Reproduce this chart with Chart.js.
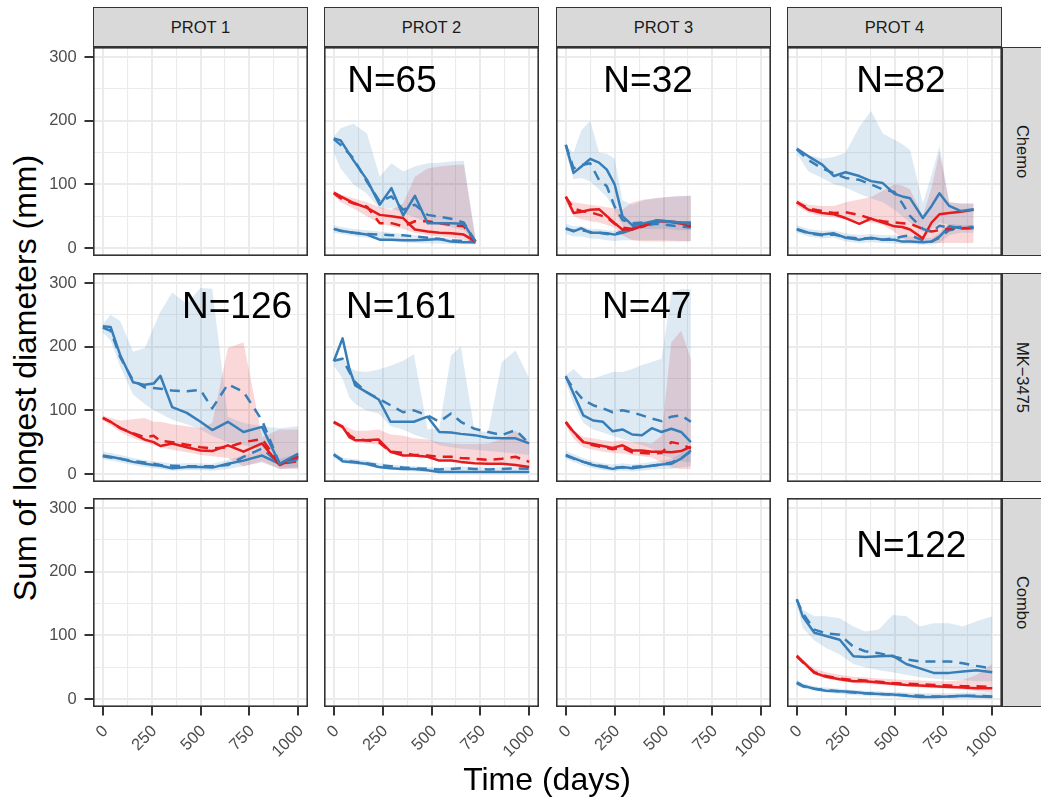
<!DOCTYPE html>
<html>
<head>
<meta charset="utf-8">
<script src="https://cdn.jsdelivr.net/npm/chart.js@4.4.1/dist/chart.umd.min.js"></script>
<style>
  html, body { margin: 0; padding: 0; background: #fff; }
  #figure { position: relative; width: 1041px; height: 798px; overflow: hidden;
            font-family: "Liberation Sans", Arial, sans-serif; }
  #figure canvas { position: absolute; }
  .strip { position: absolute; box-sizing: border-box; background: #d9d9d9;
           border: 1.4px solid #333; color: #1a1a1a; font-size: 16.5px;
           display: flex; align-items: center; justify-content: center; }
  .strip.side { border-right: none; }
  .strip.side span { transform: rotate(90deg); white-space: nowrap; }
  .axis-title { position: absolute; font-size: 32px; line-height: 32px; color: #000; white-space: nowrap; }
</style>
</head>
<body>
<div id="figure"></div>
<script>
// facet labels and axis ticks
const colLabels = ['PROT 1', 'PROT 2', 'PROT 3', 'PROT 4'];
const rowLabels = ['Chemo', 'MK\u22123475', 'Combo'];
const xTicks = [0, 125, 250, 375, 500, 625, 750, 875, 1000];
const yTicks = [0, 50, 100, 150, 200, 250, 300];

// Chemo / PROT 2
const chemo2Time = [0, 35, 100, 170, 235, 295, 355, 415, 480, 540, 600, 665, 725];
const chemo2ObsHi = [172, 169, 138, 107, 68, 94, 51, 82, 39, 39, 39, 38, 10];
const chemo2PredHi = [171, 162, 141, 104, 73, 81, 60, 68, 52, 49, 46, 40, 10];
const chemo2ObsMed = [87, 81, 71, 63, 52, 50, 47, 29, 26, 24, 23, 21, 10];
const chemo2PredMed = [86, 78, 70, 65, 39, 39, 34, 42, 42, 39, 36, 34, 10];
const chemo2ObsLo = [30, 27, 24, 21, 13, 13, 12, 12, 13, 14, 10, 9, 9];
const chemo2PredLo = [30, 27, 24, 22, 21, 20, 20, 18, 16, 14, 12, 11, 9];
const chemo2CiHiLow = [150, 125, 100, 85, 62, 62, 55, 48, 40, 36, 32, 28, 8];
const chemo2CiHiHigh = [175, 188, 195, 180, 112, 133, 120, 128, 133, 134, 136, 137, 15];
const chemo2CiMedLow = [82, 72, 62, 50, 38, 34, 30, 24, 20, 18, 16, 14, 8];
const chemo2CiMedHigh = [90, 84, 78, 72, 64, 60, 70, 112, 125, 128, 130, 131, 14];
const chemo2CiLoLow = [24, 22, 19, 16, 12, 10, 9, 8, 7, 7, 6, 6, 6];
const chemo2CiLoHigh = [36, 33, 30, 28, 26, 24, 22, 20, 18, 17, 15, 14, 11];

// Chemo / PROT 3
const chemo3Time = [0, 40, 80, 125, 170, 210, 250, 290, 340, 400, 460, 520, 580, 640];
const chemo3ObsHi = [162, 118, 128, 140, 134, 123, 100, 50, 36, 39, 43, 42, 40, 40];
const chemo3PredHi = [162, 125, 130, 133, 107, 97, 65, 44, 39, 40, 41, 41, 40, 38];
const chemo3ObsMed = [81, 55, 57, 60, 61, 50, 39, 29, 29, 36, 43, 42, 39, 34];
const chemo3PredMed = [80, 62, 58, 56, 52, 48, 38, 32, 30, 34, 42, 42, 40, 38];
const chemo3ObsLo = [31, 26, 31, 24, 24, 23, 21, 24, 29, 36, 42, 42, 39, 39];
const chemo3PredLo = [30, 27, 28, 25, 24, 22, 22, 26, 32, 35, 38, 36, 34, 32];
const chemo3CiHiLow = [150, 108, 110, 105, 92, 80, 60, 35, 28, 30, 30, 30, 28, 28];
const chemo3CiHiHigh = [160, 150, 185, 200, 150, 148, 140, 75, 68, 75, 78, 80, 82, 82];
const chemo3CiMedLow = [72, 50, 45, 42, 40, 36, 32, 20, 12, 10, 10, 10, 10, 10];
const chemo3CiMedHigh = [78, 72, 70, 68, 66, 64, 62, 60, 72, 76, 78, 80, 81, 82];
const chemo3CiLoLow = [22, 18, 18, 15, 14, 12, 11, 12, 12, 12, 12, 12, 11, 11];
const chemo3CiLoHigh = [38, 34, 34, 30, 30, 28, 27, 30, 34, 40, 44, 44, 42, 42];

// Chemo / PROT 4
const chemo4Time = [0, 60, 130, 190, 250, 320, 380, 440, 500, 540, 580, 645, 690, 730, 780, 840, 905];
const chemo4ObsHi = [156, 144, 131, 113, 119, 113, 105, 102, 85, 81, 78, 47, 66, 86, 66, 58, 61];
const chemo4PredHi = [155, 138, 125, 117, 110, 107, 100, 92, 88, 70, 50, 30, 25, 35, 32, 33, 33];
const chemo4ObsMed = [72, 60, 55, 53, 47, 38, 46, 40, 34, 33, 29, 15, 40, 53, 55, 57, 60];
const chemo4PredMed = [72, 62, 58, 55, 56, 52, 46, 42, 40, 39, 38, 30, 26, 28, 30, 31, 32];
const chemo4ObsLo = [30, 24, 21, 23, 16, 13, 16, 13, 13, 10, 10, 9, 10, 18, 34, 31, 31];
const chemo4PredLo = [29, 23, 20, 21, 17, 15, 15, 13, 15, 18, 20, 12, 10, 16, 28, 31, 31];
const chemo4CiHiLow = [148, 120, 110, 100, 95, 85, 78, 72, 60, 50, 40, 25, 30, 40, 36, 33, 33];
const chemo4CiHiHigh = [154, 146, 140, 143, 150, 190, 215, 180, 170, 163, 154, 70, 115, 160, 72, 70, 70];
const chemo4CiMedLow = [66, 55, 50, 48, 45, 42, 40, 36, 25, 15, 10, 8, 8, 8, 8, 8, 8];
const chemo4CiMedHigh = [76, 68, 66, 66, 72, 76, 80, 90, 100, 98, 92, 50, 95, 150, 72, 70, 70];
const chemo4CiLoLow = [24, 18, 15, 16, 10, 8, 9, 8, 7, 6, 6, 5, 5, 8, 20, 24, 24];
const chemo4CiLoHigh = [36, 30, 27, 28, 23, 20, 22, 20, 20, 18, 18, 16, 16, 24, 38, 36, 36];

// MK-3475 / PROT 1
const mk1Time = [0, 40, 90, 155, 215, 260, 295, 355, 430, 500, 560, 640, 720, 815, 905, 1000];
const mk1ObsHi = [232, 231, 186, 144, 140, 142, 154, 105, 96, 82, 69, 82, 66, 74, 16, 32];
const mk1PredHi = [230, 225, 183, 147, 136, 135, 134, 131, 130, 132, 103, 141, 129, 84, 16, 22];
const mk1ObsMed = [88, 82, 72, 63, 54, 50, 44, 48, 42, 37, 36, 45, 35, 48, 14, 27];
const mk1PredMed = [88, 82, 72, 64, 58, 60, 52, 50, 46, 42, 40, 42, 50, 55, 16, 20];
const mk1ObsLo = [29, 27, 24, 19, 16, 14, 13, 9, 11, 11, 10, 16, 21, 29, 16, 29];
const mk1PredLo = [28, 26, 24, 20, 18, 16, 14, 13, 12, 12, 12, 14, 27, 40, 16, 24];
const mk1CiHiLow = [222, 210, 168, 125, 110, 100, 95, 85, 78, 70, 60, 50, 45, 40, 10, 10];
const mk1CiHiHigh = [235, 250, 240, 192, 198, 230, 255, 285, 267, 292, 291, 90, 80, 75, 72, 75];
const mk1CiMedLow = [84, 76, 66, 56, 50, 45, 42, 38, 34, 30, 28, 25, 12, 20, 8, 8];
const mk1CiMedHigh = [92, 88, 84, 86, 88, 82, 82, 78, 75, 72, 80, 198, 207, 58, 70, 70];
const mk1CiLoLow = [23, 21, 18, 14, 11, 9, 8, 5, 6, 6, 5, 8, 12, 18, 8, 10];
const mk1CiLoHigh = [35, 33, 30, 25, 22, 20, 19, 16, 17, 17, 16, 22, 30, 38, 24, 32];

// MK-3475 / PROT 2
const mk2Time = [0, 45, 80, 110, 165, 230, 290, 355, 410, 480, 540, 600, 650, 720, 790, 860, 930, 1000];
const mk2ObsHi = [177, 213, 165, 139, 129, 117, 82, 82, 82, 90, 66, 65, 63, 61, 57, 56, 56, 48];
const mk2PredHi = [178, 181, 160, 144, 129, 118, 108, 97, 100, 92, 82, 95, 82, 71, 66, 61, 69, 48];
const mk2ObsMed = [82, 74, 58, 53, 53, 54, 35, 29, 29, 27, 21, 21, 19, 17, 16, 16, 14, 11];
const mk2PredMed = [81, 74, 61, 55, 53, 50, 35, 33, 30, 29, 27, 27, 25, 24, 22, 24, 27, 19];
const mk2ObsLo = [31, 20, 19, 18, 16, 11, 9, 8, 8, 6, 3, 3, 3, 3, 3, 3, 3, 3];
const mk2PredLo = [30, 22, 20, 19, 17, 14, 12, 10, 9, 8, 7, 8, 9, 8, 7, 8, 9, 8];
const mk2CiHiLow = [170, 150, 120, 110, 100, 95, 75, 70, 62, 55, 45, 42, 40, 38, 36, 34, 32, 30];
const mk2CiHiHigh = [178, 184, 168, 162, 160, 164, 170, 178, 188, 70, 72, 186, 200, 68, 66, 176, 194, 150];
const mk2CiMedLow = [78, 70, 55, 50, 48, 46, 32, 30, 28, 26, 24, 22, 20, 20, 18, 18, 15, 12];
const mk2CiMedHigh = [84, 78, 72, 68, 68, 70, 62, 60, 56, 54, 50, 48, 47, 47, 48, 55, 68, 50];
const mk2CiLoLow = [26, 17, 16, 15, 13, 9, 7, 5, 4, 3, 2, 2, 2, 2, 2, 2, 2, 2];
const mk2CiLoHigh = [35, 26, 24, 23, 21, 17, 15, 13, 12, 11, 10, 11, 12, 11, 10, 11, 12, 11];

// MK-3475 / PROT 3
const mk3Time = [0, 40, 90, 140, 190, 240, 290, 340, 390, 440, 490, 540, 590, 640];
const mk3ObsHi = [154, 126, 92, 84, 82, 67, 70, 62, 61, 72, 66, 71, 66, 50];
const mk3PredHi = [152, 134, 116, 108, 103, 97, 100, 97, 92, 87, 83, 90, 92, 82];
const mk3ObsMed = [82, 66, 50, 47, 44, 41, 45, 37, 37, 35, 35, 34, 36, 43];
const mk3PredMed = [81, 65, 50, 45, 42, 39, 41, 34, 33, 32, 33, 50, 47, 40];
const mk3ObsLo = [30, 25, 19, 14, 11, 8, 11, 9, 11, 13, 15, 16, 24, 37];
const mk3PredLo = [29, 24, 19, 15, 12, 10, 10, 11, 12, 13, 15, 18, 25, 35];
const mk3CiHiLow = [145, 110, 80, 70, 65, 60, 55, 50, 45, 40, 30, 25, 20, 18];
const mk3CiHiHigh = [155, 165, 150, 150, 155, 160, 160, 165, 171, 176, 181, 285, 290, 290];
const mk3CiMedLow = [76, 55, 42, 38, 35, 33, 32, 30, 28, 26, 18, 10, 8, 8];
const mk3CiMedHigh = [79, 69, 58, 56, 53, 51, 53, 50, 50, 48, 60, 207, 225, 181];
const mk3CiLoLow = [24, 19, 13, 9, 6, 4, 5, 4, 5, 7, 8, 8, 10, 12];
const mk3CiLoHigh = [36, 31, 25, 20, 17, 15, 17, 15, 17, 19, 21, 24, 32, 45];

// Combo / PROT 4
const combo4Time = [0, 30, 90, 150, 220, 290, 350, 420, 490, 560, 630, 700, 780, 850, 920, 1000];
const combo4ObsHi = [157, 130, 104, 99, 93, 67, 66, 67, 68, 55, 48, 41, 41, 43, 45, 42];
const combo4PredHi = [156, 135, 109, 103, 101, 82, 75, 72, 67, 62, 59, 59, 59, 56, 52, 48];
const combo4ObsMed = [68, 59, 41, 35, 31, 28, 28, 26, 24, 22, 21, 20, 19, 18, 17, 17];
const combo4PredMed = [67, 58, 42, 36, 32, 30, 29, 27, 25, 24, 23, 22, 21, 20, 20, 19];
const combo4ObsLo = [26, 21, 16, 13, 12, 11, 9, 8, 7, 5, 3, 3, 4, 5, 4, 3];
const combo4PredLo = [25, 20, 16, 14, 12, 10, 9, 8, 7, 6, 5, 4, 4, 5, 5, 4];
const combo4CiHiLow = [150, 112, 92, 80, 70, 55, 50, 45, 42, 38, 34, 32, 30, 30, 28, 28];
const combo4CiHiHigh = [156, 140, 130, 130, 127, 114, 106, 109, 132, 130, 114, 119, 119, 114, 122, 130];
const combo4CiMedLow = [64, 55, 38, 32, 28, 25, 24, 22, 21, 20, 18, 17, 16, 15, 12, 10];
const combo4CiMedHigh = [72, 62, 48, 42, 38, 35, 34, 32, 31, 30, 29, 28, 28, 30, 38, 55];
const combo4CiLoLow = [21, 17, 13, 10, 8, 6, 5, 4, 3, 2, 1, 1, 1, 1, 1, 1];
const combo4CiLoHigh = [30, 25, 20, 18, 16, 14, 13, 12, 11, 10, 9, 9, 9, 10, 10, 10];

// which facet each group goes into, plus the N annotation (data units)
const panels = [
  { row: 0, col: 1, n: 'N=65', at: [298, 245.5], time: chemo2Time,
    lines: [chemo2ObsHi, chemo2PredHi, chemo2ObsMed, chemo2PredMed, chemo2ObsLo, chemo2PredLo],
    bands: [[chemo2CiHiLow, chemo2CiHiHigh], [chemo2CiMedLow, chemo2CiMedHigh], [chemo2CiLoLow, chemo2CiLoHigh]] },
  { row: 0, col: 2, n: 'N=32', at: [421, 245.5], time: chemo3Time,
    lines: [chemo3ObsHi, chemo3PredHi, chemo3ObsMed, chemo3PredMed, chemo3ObsLo, chemo3PredLo],
    bands: [[chemo3CiHiLow, chemo3CiHiHigh], [chemo3CiMedLow, chemo3CiMedHigh], [chemo3CiLoLow, chemo3CiLoHigh]] },
  { row: 0, col: 3, n: 'N=82', at: [533, 245.5], time: chemo4Time,
    lines: [chemo4ObsHi, chemo4PredHi, chemo4ObsMed, chemo4PredMed, chemo4ObsLo, chemo4PredLo],
    bands: [[chemo4CiHiLow, chemo4CiHiHigh], [chemo4CiMedLow, chemo4CiMedHigh], [chemo4CiLoLow, chemo4CiLoHigh]] },
  { row: 1, col: 0, n: 'N=126', at: [687, 244.5], time: mk1Time,
    lines: [mk1ObsHi, mk1PredHi, mk1ObsMed, mk1PredMed, mk1ObsLo, mk1PredLo],
    bands: [[mk1CiHiLow, mk1CiHiHigh], [mk1CiMedLow, mk1CiMedHigh], [mk1CiLoLow, mk1CiLoHigh]] },
  { row: 1, col: 1, n: 'N=161', at: [344, 244.5], time: mk2Time,
    lines: [mk2ObsHi, mk2PredHi, mk2ObsMed, mk2PredMed, mk2ObsLo, mk2PredLo],
    bands: [[mk2CiHiLow, mk2CiHiHigh], [mk2CiMedLow, mk2CiMedHigh], [mk2CiLoLow, mk2CiLoHigh]] },
  { row: 1, col: 2, n: 'N=47', at: [414, 244.5], time: mk3Time,
    lines: [mk3ObsHi, mk3PredHi, mk3ObsMed, mk3PredMed, mk3ObsLo, mk3PredLo],
    bands: [[mk3CiHiLow, mk3CiHiHigh], [mk3CiMedLow, mk3CiMedHigh], [mk3CiLoLow, mk3CiLoHigh]] },
  { row: 2, col: 3, n: 'N=122', at: [586, 223.5], time: combo4Time,
    lines: [combo4ObsHi, combo4PredHi, combo4ObsMed, combo4PredMed, combo4ObsLo, combo4PredLo],
    bands: [[combo4CiHiLow, combo4CiHiHigh], [combo4CiMedLow, combo4CiMedHigh], [combo4CiLoLow, combo4CiLoHigh]] }
];

// layout of the facet grid (px)
const PANEL_LEFT = [93, 324, 556, 787];
const PANEL_TOP = [47, 273, 498];
const PANEL_W = 215, PANEL_H = 209;
const Y_AXIS_W = 48, X_AXIS_H = 75;

const BLUE = '#377EB8', RED = '#E41A1C';
const BLUE_FILL = 'rgba(55,126,184,0.17)', RED_FILL = 'rgba(228,26,28,0.17)';
const GRID = '#EBEBEB', NONE = 'rgba(0,0,0,0)';
const FONT = '"Liberation Sans", Arial, sans-serif';

Chart.defaults.font.family = FONT;

const isMajorX = v => v % 250 === 0;
const isMajorY = v => v % 100 === 0;

const figure = document.getElementById('figure');

// panel frame + N annotation
const panelDecor = {
  id: 'panelDecor',
  afterDatasetsDraw(chart, args, opts) {
    const { ctx, chartArea: a, scales } = chart;
    ctx.save();
    if (opts.text) {
      ctx.fillStyle = '#000';
      ctx.font = '37px ' + FONT;
      ctx.textAlign = 'center';
      ctx.textBaseline = 'alphabetic';
      ctx.fillText(opts.text, scales.x.getPixelForValue(opts.at[0]), scales.y.getPixelForValue(opts.at[1]));
    }
    ctx.strokeStyle = '#333';
    ctx.lineWidth = 1.6;
    ctx.strokeRect(a.left + 0.8, a.top + 0.8, a.width - 1.6, a.height - 1.6);
    ctx.restore();
  }
};

function toPoints(time, vals) {
  return time.map((t, i) => ({ x: t, y: vals[i] }));
}

function buildDatasets(p) {
  if (!p) return [];
  const colors = [BLUE, BLUE, RED, RED, BLUE, BLUE];
  const sets = p.lines.map((vals, i) => ({
    data: toPoints(p.time, vals),
    borderColor: colors[i],
    borderWidth: 2.5,
    borderDash: i % 2 ? [10, 7] : [],
    borderJoinStyle: 'round',
    fill: false
  }));
  const fills = [BLUE_FILL, RED_FILL, BLUE_FILL];
  p.bands.forEach(([lo, hi], i) => {
    sets.push({ data: toPoints(p.time, lo), borderColor: NONE, borderWidth: 1, fill: false });
    sets.push({ data: toPoints(p.time, hi), borderColor: NONE, borderWidth: 1, backgroundColor: fills[i], fill: '-1' });
  });
  return sets;
}

function buildPanel(row, col) {
  const p = panels.find(q => q.row === row && q.col === col);
  const showY = col === 0, showX = row === 2;
  const padL = showY ? Y_AXIS_W : 0, padB = showX ? X_AXIS_H : 0;

  const canvas = document.createElement('canvas');
  canvas.width = PANEL_W + padL;
  canvas.height = PANEL_H + padB;
  canvas.style.left = (PANEL_LEFT[col] - padL) + 'px';
  canvas.style.top = PANEL_TOP[row] + 'px';
  figure.appendChild(canvas);

  const tickFont = { family: FONT, size: 16.5 };

  new Chart(canvas, {
    type: 'line',
    data: { datasets: buildDatasets(p) },
    plugins: [panelDecor],
    options: {
      responsive: false,
      animation: false,
      devicePixelRatio: 1,
      layout: { padding: 0, autoPadding: false },
      elements: { point: { radius: 0 }, line: { tension: 0 } },
      plugins: {
        legend: { display: false },
        tooltip: { enabled: false },
        panelDecor: p ? { text: p.n, at: p.at } : {}
      },
      scales: {
        x: {
          type: 'linear', min: -50, max: 1050,
          afterBuildTicks: s => { s.ticks = xTicks.map(v => ({ value: v })); },
          afterFit: s => { s.height = padB; s.paddingLeft = 0; s.paddingRight = 0; },
          border: { display: false },
          grid: {
            color: GRID,
            lineWidth: c => (c.tick && isMajorX(c.tick.value)) ? 2 : 1.1,
            drawTicks: showX, tickLength: 8.5, tickWidth: 2,
            tickColor: c => (c.tick && isMajorX(c.tick.value)) ? '#333' : NONE
          },
          ticks: {
            display: showX, autoSkip: false, minRotation: 45, maxRotation: 45,
            padding: 6, labelOffset: 2.7, color: '#4d4d4d', font: tickFont,
            callback: v => isMajorX(v) ? String(v) : ''
          }
        },
        y: {
          type: 'linear', min: -12.6, max: 315.7,
          afterBuildTicks: s => { s.ticks = yTicks.map(v => ({ value: v })); },
          afterFit: s => { s.width = padL; s.paddingTop = 0; s.paddingBottom = 0; },
          border: { display: false },
          grid: {
            color: GRID,
            lineWidth: c => (c.tick && isMajorY(c.tick.value)) ? 2 : 1.1,
            drawTicks: showY, tickLength: 8.5, tickWidth: 2,
            tickColor: c => (c.tick && isMajorY(c.tick.value)) ? '#333' : NONE
          },
          ticks: {
            display: showY, autoSkip: false, padding: 7.8, color: '#4d4d4d', font: tickFont,
            callback: v => isMajorY(v) ? String(v) : ''
          }
        }
      }
    }
  });
}

for (let r = 0; r < rowLabels.length; r++) {
  for (let c = 0; c < colLabels.length; c++) buildPanel(r, c);
}

// facet strips
colLabels.forEach((txt, c) => {
  const d = document.createElement('div');
  d.className = 'strip';
  d.style.left = PANEL_LEFT[c] + 'px';
  d.style.top = '7px';
  d.style.width = PANEL_W + 'px';
  d.style.height = '40px';
  d.textContent = txt;
  figure.appendChild(d);
});
rowLabels.forEach((txt, r) => {
  const d = document.createElement('div');
  d.className = 'strip side';
  d.style.left = (PANEL_LEFT[3] + PANEL_W) + 'px';
  d.style.top = PANEL_TOP[r] + 'px';
  d.style.width = '40px';
  d.style.height = PANEL_H + 'px';
  const s = document.createElement('span');
  s.textContent = txt;
  d.appendChild(s);
  figure.appendChild(d);
});

// axis titles
const xTitle = document.createElement('div');
xTitle.className = 'axis-title';
xTitle.textContent = 'Time (days)';
xTitle.style.left = '547px';
xTitle.style.top = '763px';
xTitle.style.transform = 'translateX(-50%)';
figure.appendChild(xTitle);

const yTitle = document.createElement('div');
yTitle.className = 'axis-title';
yTitle.textContent = 'Sum of longest diameters (mm)';
yTitle.style.left = '25.4px';
yTitle.style.top = '377.5px';
yTitle.style.transform = 'translate(-50%, -50%) rotate(-90deg)';
figure.appendChild(yTitle);
</script>
</body>
</html>
